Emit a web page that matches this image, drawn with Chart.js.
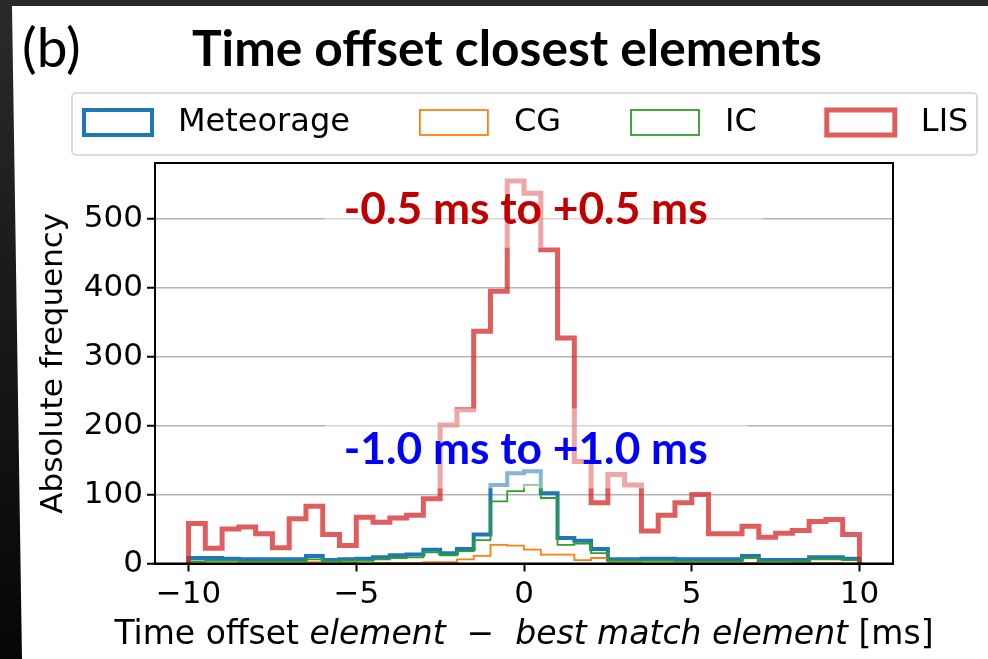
<!DOCTYPE html>
<html lang="en">
<head>
    <meta charset="UTF-8">
    <title>Time offset closest elements</title>
    <script src="https://cdn.jsdelivr.net/npm/chart.js@4.4.0/dist/chart.umd.min.js"></script>
    <style>
        html, body { margin: 0; padding: 0; background: #111; }
        #wrap { width: 988px; height: 659px; }
    </style>
</head>
<body>
    <div id="wrap"><canvas id="chart" width="988" height="659"></canvas></div>
    <script>
        // histogram bins: 0.5 ms wide, from -10 to +10 ms
        const binStart = -10;
        const binWidth = 0.5;
        const meteorageCounts = [8, 8, 7, 6, 6, 6, 6, 11, 5, 6, 7, 9, 12, 13, 20, 15, 21, 42, 114, 131,
            134, 102, 37, 33, 21, 6, 6, 7, 7, 6, 6, 6, 6, 11, 5, 5, 5, 9, 9, 7];
        const cgCounts = [0, 0, 0, 0, 0, 0, 0, 2, 0, 1, 0, 1, 1, 1, 2, 2, 6, 11, 27, 26,
            20, 13, 13, 5, 8, 1, 1, 0, 0, 0, 0, 0, 0, 1, 0, 0, 1, 1, 1, 0];
        const icCounts = [3, 4, 4, 3, 3, 3, 3, 6, 3, 4, 4, 6, 8, 9, 16, 12, 18, 34, 90, 105,
            114, 95, 27, 29, 15, 4, 4, 4, 4, 3, 3, 3, 3, 8, 3, 3, 3, 6, 6, 5];
        const lisCounts = [58, 22, 50, 53, 43, 23, 65, 83, 42, 26, 67, 60, 66, 70, 94, 201, 223, 337, 395, 555,
            537, 455, 327, 148, 88, 129, 114, 47, 70, 88, 100, 43, 43, 54, 38, 44, 48, 61, 64, 42];
        const xTicks = [-10, -5, 0, 5, 10];
        const yTicks = [0, 100, 200, 300, 400, 500];

        const seriesNames = ['Meteorage', 'CG', 'IC', 'LIS'];
        const seriesColors = ['#1f77b4', '#ff7f0e', '#2ca02c', 'rgba(214,39,40,0.75)'];
        const seriesWidths = [4, 1.8, 1.8, 5];

        // step outline like matplotlib histtype='step'
        function stepPoints(counts) {
            const pts = [{ x: binStart, y: 0 }];
            counts.forEach((c, i) => pts.push({ x: binStart + i * binWidth, y: c }));
            pts.push({ x: binStart + counts.length * binWidth, y: 0 });
            return pts;
        }

        const notes = [
            { text: '-0.5 ms to +0.5 ms', color: '#c00000', x: 0.05, y: 516, box: [-5.93, 7.11, 458, 576] },
            { text: '-1.0 ms to +1.0 ms', color: '#0000ff', x: 0.05, y: 168, box: [-5.93, 6.66, 109, 225] }
        ];

        const sans = '"DejaVu Sans", sans-serif';

        function fitFont(ctx, text, weight, family, width) {
            ctx.font = weight + ' 40px ' + family;
            return 40 * width / ctx.measureText(text).width;
        }

        const framePlugin = {
            id: 'frame',
            beforeDraw(chart) {
                const ctx = chart.ctx, w = chart.width, h = chart.height;
                ctx.save();
                const g = ctx.createLinearGradient(0, 0, 0, h);
                g.addColorStop(0, '#2a2a2a');
                g.addColorStop(1, '#060606');
                ctx.fillStyle = g;
                ctx.fillRect(0, 0, w, h);
                ctx.fillStyle = '#fff';
                ctx.beginPath();
                ctx.moveTo(12, 6);
                ctx.lineTo(w, 6);
                ctx.lineTo(w, h);
                ctx.lineTo(22, h);
                ctx.closePath();
                ctx.fill();
                ctx.restore();
            }
        };

        const notesPlugin = {
            id: 'notes',
            afterDatasetsDraw(chart) {
                const ctx = chart.ctx, xs = chart.scales.x, ys = chart.scales.y;
                ctx.save();
                notes.forEach(n => {
                    const x0 = xs.getPixelForValue(n.box[0]), x1 = xs.getPixelForValue(n.box[1]);
                    const y0 = ys.getPixelForValue(n.box[3]), y1 = ys.getPixelForValue(n.box[2]);
                    ctx.fillStyle = 'rgba(255,255,255,0.45)';
                    ctx.fillRect(x0, y0, x1 - x0, y1 - y0);
                });
                notes.forEach(n => {
                    const size = fitFont(ctx, n.text, 'bold', 'Lato', 364);
                    ctx.font = 'bold ' + size + 'px Lato';
                    ctx.fillStyle = n.color;
                    ctx.textAlign = 'center';
                    ctx.textBaseline = 'alphabetic';
                    ctx.fillText(n.text, xs.getPixelForValue(n.x), ys.getPixelForValue(n.y) + 0.36 * size);
                });
                ctx.restore();
            }
        };

        const decorPlugin = {
            id: 'decor',
            afterDraw(chart) {
                const ctx = chart.ctx, a = chart.chartArea;
                ctx.save();
                // spines
                ctx.strokeStyle = '#000';
                ctx.lineWidth = 2;
                ctx.strokeRect(a.left, a.top, a.right - a.left, a.bottom - a.top);

                // titles
                ctx.fillStyle = '#000';
                ctx.textBaseline = 'alphabetic';
                ctx.textAlign = 'left';
                ctx.font = '55px Lato';
                ctx.fillText('(b)', 22, 67);
                const tsize = fitFont(ctx, 'Time offset closest elements', 'bold', 'Lato', 630);
                ctx.font = 'bold ' + tsize + 'px Lato';
                ctx.fillText('Time offset closest elements', 192, 66);

                // x axis label with italic parts
                const parts = [
                    ['Time offset ', ''], ['element', 'oblique '], ['  \u2212  ', ''],
                    ['best match element', 'oblique '], [' [ms]', '']
                ];
                let total = 0;
                parts.forEach(p => { ctx.font = p[1] + '33px ' + sans; total += ctx.measureText(p[0]).width; });
                let x = (a.left + a.right) / 2 - total / 2;
                parts.forEach(p => {
                    ctx.font = p[1] + '33px ' + sans;
                    ctx.fillText(p[0], x, 644);
                    x += ctx.measureText(p[0]).width;
                });

                // legend
                ctx.fillStyle = 'rgba(255,255,255,0.8)';
                ctx.strokeStyle = '#d0d0d0';
                ctx.lineWidth = 1.5;
                ctx.beginPath();
                ctx.roundRect(72, 93, 905, 62, 4);
                ctx.fill();
                ctx.stroke();
                ctx.font = '32px ' + sans;
                ctx.textBaseline = 'middle';
                let lx = 84;
                seriesNames.forEach((name, i) => {
                    ctx.strokeStyle = seriesColors[i];
                    ctx.lineWidth = seriesWidths[i];
                    ctx.lineJoin = 'miter';
                    ctx.strokeRect(lx, 110, 68, 25);
                    ctx.fillStyle = '#000';
                    ctx.fillText(name, lx + 94, 123);
                    lx += 94 + ctx.measureText(name).width + 70;
                });
                ctx.restore();
            }
        };

        const counts = [meteorageCounts, cgCounts, icCounts, lisCounts];
        const drawOrder = [3, 2, 1, 0];

        new Chart(document.getElementById('chart'), {
            type: 'line',
            data: {
                datasets: counts.map((c, i) => ({
                    label: seriesNames[i],
                    data: stepPoints(c),
                    stepped: 'before',
                    borderColor: seriesColors[i],
                    borderWidth: seriesWidths[i],
                    borderJoinStyle: 'miter',
                    pointRadius: 0,
                    fill: false,
                    order: drawOrder[i]
                }))
            },
            options: {
                responsive: false,
                animation: false,
                layout: { padding: { left: 35, top: 163, right: 95, bottom: 45.5 } },
                plugins: { legend: { display: false }, tooltip: { enabled: false } },
                scales: {
                    x: {
                        type: 'linear',
                        min: -11,
                        max: 11,
                        afterFit: s => { s.height = 50; },
                        afterBuildTicks: s => { s.ticks = xTicks.map(v => ({ value: v })); },
                        ticks: {
                            color: '#000',
                            font: { family: sans, size: 31 },
                            padding: 5,
                            maxRotation: 0,
                            callback: v => v < 0 ? '\u2212' + Math.abs(v) : String(v)
                        },
                        grid: { drawOnChartArea: false, drawTicks: true, tickLength: 8, tickColor: '#000', tickWidth: 2 },
                        border: { color: '#000', width: 2 }
                    },
                    y: {
                        min: 0,
                        max: 581,
                        afterFit: s => { s.width = 120; },
                        afterBuildTicks: s => { s.ticks = yTicks.map(v => ({ value: v })); },
                        ticks: { color: '#000', font: { family: sans, size: 31 }, padding: 4 },
                        grid: { color: '#b4b4b4', lineWidth: 1.5, tickLength: 8, tickColor: '#000', tickWidth: 2 },
                        border: { color: '#000', width: 2 },
                        title: {
                            display: true,
                            text: 'Absolute frequency',
                            color: '#000',
                            font: { family: sans, size: 31 },
                            padding: { top: 0, bottom: 0 }
                        }
                    }
                }
            },
            plugins: [framePlugin, notesPlugin, decorPlugin]
        });
    </script>
</body>
</html>
